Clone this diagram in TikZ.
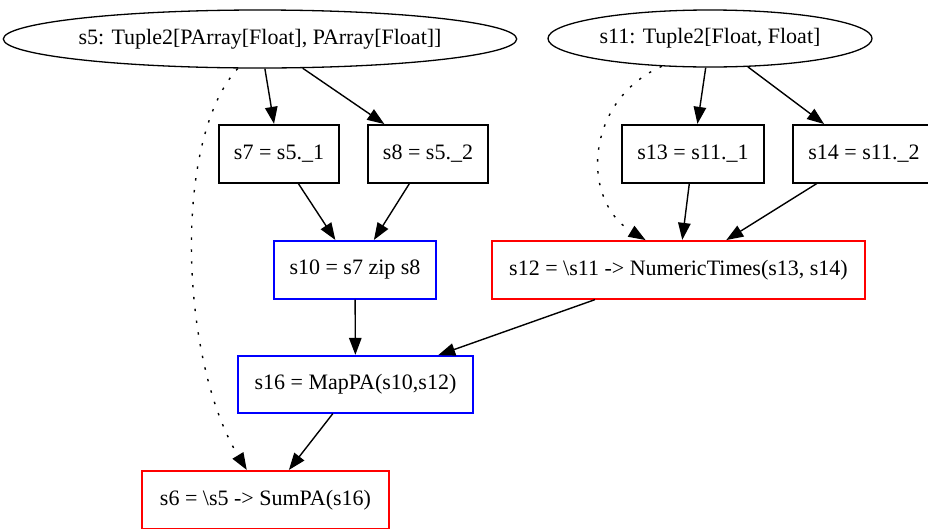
\documentclass[tikz,border=0pt]{standalone}
\usepackage{fontspec}
\setmainfont{Liberation Serif}
\usetikzlibrary{shapes.geometric,arrows.meta,calc}
\begin{document}
\begin{tikzpicture}[x=1pt,y=-1pt,
  every node/.style={font=\fontsize{22}{26}\selectfont, inner sep=0pt},
  stage/.style={draw, line width=1.3pt, ellipse, minimum height=58pt},
  op/.style={draw, line width=1.3pt, rectangle, minimum height=58pt},
  parop/.style={op, draw=blue},
  lamop/.style={op, draw=red},
  flow/.style={line width=1.4pt, -{Triangle[length=17pt,width=12.5pt]}, shorten >=0.5pt},
  dep/.style={flow, dash pattern=on 2.4pt off 9.5pt}]
\useasboundingbox (0,0) rectangle (928,528);

% tuple sources
\node[stage, minimum width=506pt] (s5) at (260,39) {s5: Tuple2[PArray[Float], PArray[Float]]};
\node[stage, minimum width=324pt, minimum height=57pt] (s11) at (710,38.5) {s11: Tuple2[Float, Float]};

% projections
\node[op, minimum width=120pt] (s7) at (279,154) {s7 = s5.\_1};
\node[op, minimum width=120pt] (s8) at (428,154) {s8 = s5.\_2};
\node[op, minimum width=142pt] (s13) at (693,154) {s13 = s11.\_1};
\node[op, minimum width=142pt] (s14) at (864,154) {s14 = s11.\_2};

% combined operations
\node[parop, minimum width=162pt] (s10) at (355,270) {s10 = s7 zip s8};
\node[lamop, minimum width=373pt] (s12) at (678.5,270) {s12 = \textbackslash s11 -> NumericTimes(s13, s14)};
\node[parop, minimum width=235pt, minimum height=57pt] (s16) at (355.5,384.5) {s16 = MapPA(s10,s12)};
\node[lamop, minimum width=247pt] (s6) at (265.5,500) {s6 = \textbackslash s5 -> SumPA(s16)};

% data flow
\draw[flow] (s5) -- (s7);
\draw[flow] (s5) -- (s8);
\draw[flow] (s11) -- (s13);
\draw[flow] (s11) -- (s14);
\draw[flow] (s7) -- (s10);
\draw[flow] (s8) -- (s10);
\draw[flow] (s13) -- (s12);
\draw[flow] (s14) -- (s12);
\draw[flow] (s10) -- (s16);
\draw[flow] (s12) -- (s16);
\draw[flow] (s16) -- (s6);

% lambda dependencies
\draw[dep] (s5.233) .. controls (172,140) and (180,360) .. ([xshift=-18.5pt]s6.north);
\draw[dep] (s11.210) .. controls (585,100) and (580,200) .. ([xshift=-32.5pt]s12.north);
\end{tikzpicture}
\end{document}
